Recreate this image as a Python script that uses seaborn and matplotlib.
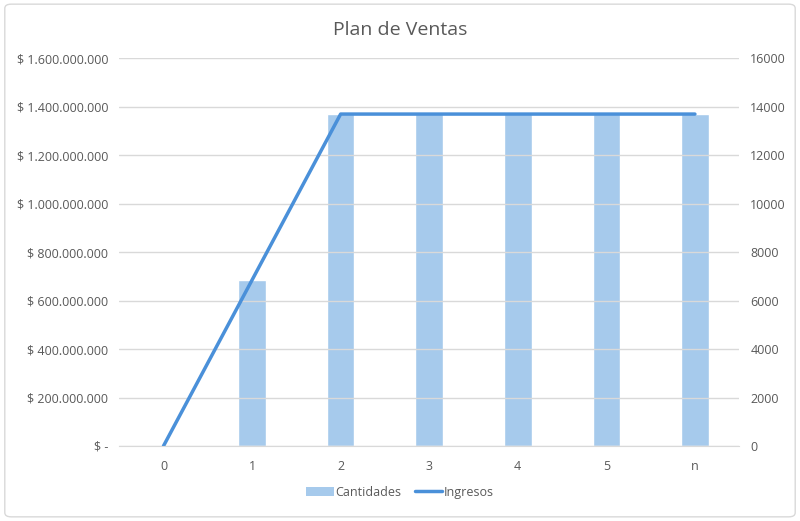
import seaborn as sns
import matplotlib.pyplot as plt
import pandas as pd
from matplotlib.patches import FancyBboxPatch, Patch
from matplotlib.lines import Line2D
from matplotlib.ticker import FuncFormatter, MultipleLocator

periodos = ["0", "1", "2", "3", "4", "5", "n"]
cantidades = [0, 6850, 13700, 13700, 13700, 13700, 13700]
ingresos = [0, 685000000, 1370000000, 1370000000, 1370000000, 1370000000, 1370000000]

color_barra = "#A6CAEC"
color_linea = "#4A90D9"
color_texto = "#595959"

df = pd.DataFrame({"periodo": periodos, "pos": range(len(periodos)),
                   "cantidades": cantidades, "ingresos": ingresos})

sns.set_style("white")
plt.rcParams["font.family"] = ["Open Sans", "DejaVu Sans"]

fig = plt.figure(figsize=(8, 5.21), dpi=100)
fig.patches.append(FancyBboxPatch((0.006, 0.008), 0.988, 0.984, boxstyle="round,pad=0,rounding_size=0.008",
                                  transform=fig.transFigure, fill=False, edgecolor="#D9D9D9", linewidth=1))
ax = fig.add_axes([0.149, 0.144, 0.775, 0.744])
ax2 = ax.twinx()

sns.barplot(data=df, x="pos", y="cantidades", ax=ax2, color=color_barra, width=0.31,
            saturation=1, native_scale=False)
sns.lineplot(data=df, x="pos", y="ingresos", ax=ax, color=color_linea, linewidth=2.5)

ax.set_zorder(ax2.get_zorder() + 1)
ax.patch.set_visible(False)

ax.set_xlim(-0.5, len(periodos) - 0.5)
ax.set_ylim(0, 1600000000)
ax2.set_ylim(0, 16000)
ax.yaxis.set_major_locator(MultipleLocator(200000000))
ax2.yaxis.set_major_locator(MultipleLocator(2000))


def pesos(v, pos):
    if v == 0:
        return "$ -"
    return "$ " + f"{v:,.0f}".replace(",", ".")


ax.yaxis.set_major_formatter(FuncFormatter(pesos))
ax2.yaxis.set_major_formatter(FuncFormatter(lambda v, p: f"{v:.0f}"))
ax.set_xticks(range(len(periodos)))
ax.set_xticklabels(periodos)

ax.grid(axis="y", color="#D9D9D9", linewidth=1)
ax.set_axisbelow(True)
for a in (ax, ax2):
    for s in a.spines.values():
        s.set_visible(False)
    a.tick_params(length=0, labelsize=9, colors=color_texto, pad=8)
    a.set_xlabel("")
    a.set_ylabel("")
ax.tick_params(axis="x", pad=10)
ax.spines["bottom"].set_visible(True)
ax.spines["bottom"].set_color("#D9D9D9")

fig.text(0.5, 0.942, "Plan de Ventas", ha="center", va="center", fontsize=14, color=color_texto)

handles = [Patch(facecolor=color_barra, edgecolor="none"),
           Line2D([0], [0], color=color_linea, linewidth=2.5)]
fig.legend(handles, ["Cantidades", "Ingresos"], loc="center", bbox_to_anchor=(0.5, 0.055), ncol=2,
           frameon=False, fontsize=9, labelcolor=color_texto, handlelength=2.2, handletextpad=0.1,
           columnspacing=1.1)

fig.savefig("out.png", dpi=100)
